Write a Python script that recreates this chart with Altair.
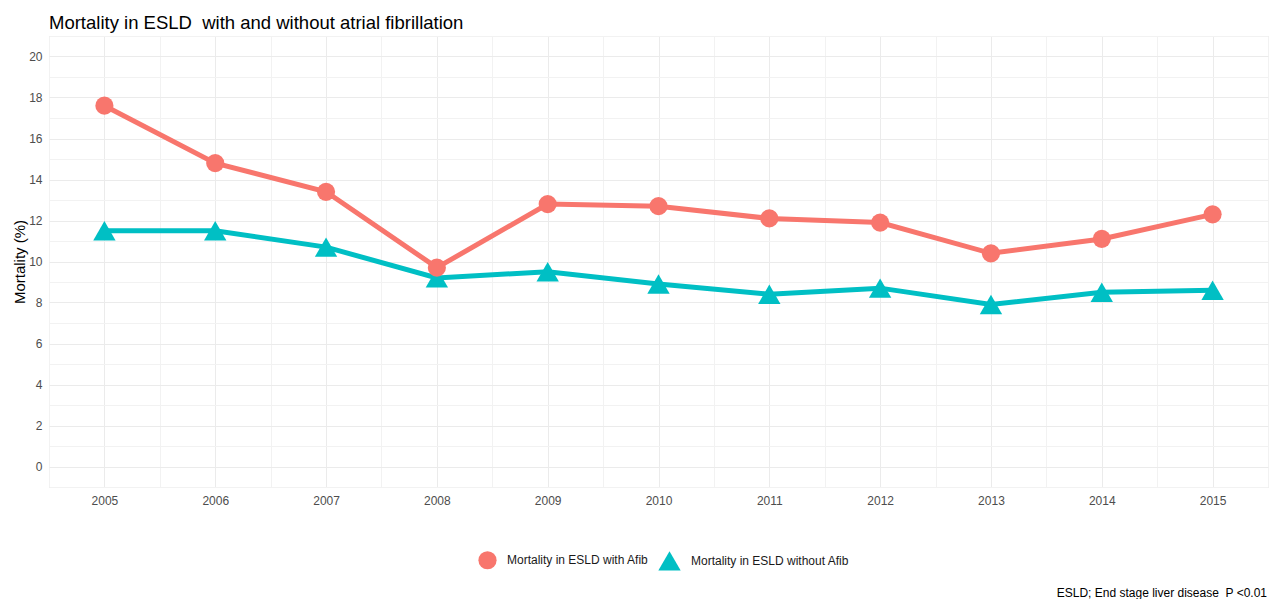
import altair as alt
import pandas as pd

# Yearly in-hospital mortality (%) in end stage liver disease
years = [2005, 2006, 2007, 2008, 2009, 2010, 2011, 2012, 2013, 2014, 2015]
with_afib = [17.6, 14.8, 13.4, 9.7, 12.8, 12.7, 12.1, 11.9, 10.4, 11.1, 12.3]
without_afib = [11.5, 11.5, 10.7, 9.2, 9.5, 8.9, 8.4, 8.7, 7.9, 8.5, 8.6]

series_names = ["Mortality in ESLD with Afib", "Mortality in ESLD without Afib"]
series_colors = ["#F8766D", "#00BFC4"]
series_shapes = ["circle", "triangle-up"]
series_sizes = [330, 500]

title_text = "Mortality in ESLD\u00a0 with and without atrial fibrillation"
y_title = "Mortality (%)"
caption_text = "ESLD; End stage liver disease\u00a0 P <0.01"

# teal rows first so the salmon markers sit on top where they overlap
rows = []
for name, vals in ((series_names[1], without_afib), (series_names[0], with_afib)):
    for yr, v in zip(years, vals):
        rows.append({"year": yr, "mortality": v, "series": name})
df = pd.DataFrame(rows)

x_ticks = [y + d for y in range(2004, 2016) for d in (0.0, 0.5)][1:]
y_ticks = list(range(-1, 22))

grid_major = "#EBEBEB"
grid_minor = "#F2F2F2"

x_enc = alt.X(
    "year:Q",
    scale=alt.Scale(domain=[2004.5, 2015.5], nice=False, zero=False),
    axis=alt.Axis(
        values=x_ticks,
        labelExpr="datum.value % 1 === 0 ? format(datum.value, 'd') : ''",
        title=None,
        domain=False,
        ticks=False,
        tickSize=0,
        labelPadding=8,
        labelFontSize=12,
        labelColor="#4D4D4D",
        labelFont="Liberation Sans",
        gridColor={"condition": {"test": "datum.value % 1 !== 0", "value": grid_minor}, "value": grid_major},
        gridWidth=1,
    ),
)

y_enc = alt.Y(
    "mortality:Q",
    scale=alt.Scale(domain=[-1, 21], nice=False, zero=False),
    axis=alt.Axis(
        values=y_ticks,
        labelExpr="(datum.value % 2 === 0 && datum.value >= 0 && datum.value <= 20) ? datum.label : ''",
        title=y_title,
        titleFont="Liberation Sans",
        titleFontSize=15,
        titleFontWeight="normal",
        titleColor="#000000",
        titleAngle=-90,
        titleAlign="center",
        titleBaseline="alphabetic",
        titleX=-25,
        titleY=225.5,
        domain=False,
        ticks=False,
        tickSize=0,
        labelPadding=7,
        labelFontSize=12,
        labelColor="#4D4D4D",
        labelFont="Liberation Sans",
        gridColor={"condition": {"test": "datum.value % 2 !== 0", "value": grid_minor}, "value": grid_major},
        gridWidth=1,
    ),
)

# one line layer per series, teal underneath
line_layers = []
for name, col in ((series_names[1], series_colors[1]), (series_names[0], series_colors[0])):
    line_layers.append(
        alt.Chart(df)
        .transform_filter(alt.datum.series == name)
        .mark_line(strokeWidth=5, color=col)
        .encode(x=x_enc, y=y_enc)
    )

legend = alt.Legend(
    title=None,
    orient="none",
    direction="horizontal",
    legendX=429,
    legendY=513,
    labelFont="Liberation Sans",
    labelFontSize=12,
    labelColor="#1A1A1A",
    labelOffset=10,
    columnPadding=9,
    symbolStrokeWidth=0,
    symbolOpacity=1,
)

points = alt.Chart(df).mark_point(filled=True, opacity=1, strokeWidth=0).encode(
    x=x_enc,
    y=y_enc,
    color=alt.Color("series:N", scale=alt.Scale(domain=series_names, range=series_colors), legend=legend),
    shape=alt.Shape("series:N", scale=alt.Scale(domain=series_names, range=series_shapes), legend=legend),
    size=alt.Size("series:N", scale=alt.Scale(domain=series_names, range=series_sizes), legend=legend),
)

caption = alt.Chart(pd.DataFrame({"text": [caption_text]})).mark_text(
    align="right",
    baseline="alphabetic",
    font="Liberation Sans",
    fontSize=12,
    color="#000000",
).encode(
    text="text:N",
    x=alt.value(1218),
    y=alt.value(561),
)

chart = (
    alt.layer(*line_layers, points, caption)
    .properties(
        width=1219,
        height=451,
        title=alt.TitleParams(
            text=title_text,
            anchor="start",
            frame="group",
            baseline="alphabetic",
            offset=10,
            dy=21,
            font="Liberation Sans",
            fontSize=18.5,
            fontWeight="normal",
            color="#000000",
        ),
        autosize=alt.AutoSizeParams(type="none"),
        padding={"left": 49, "top": 36, "right": 4, "bottom": 112},
    )
    .configure_view(stroke=None)
    .configure(background="#FFFFFF")
)

chart.save("out.html", embed_options={"renderer": "svg", "actions": False})
